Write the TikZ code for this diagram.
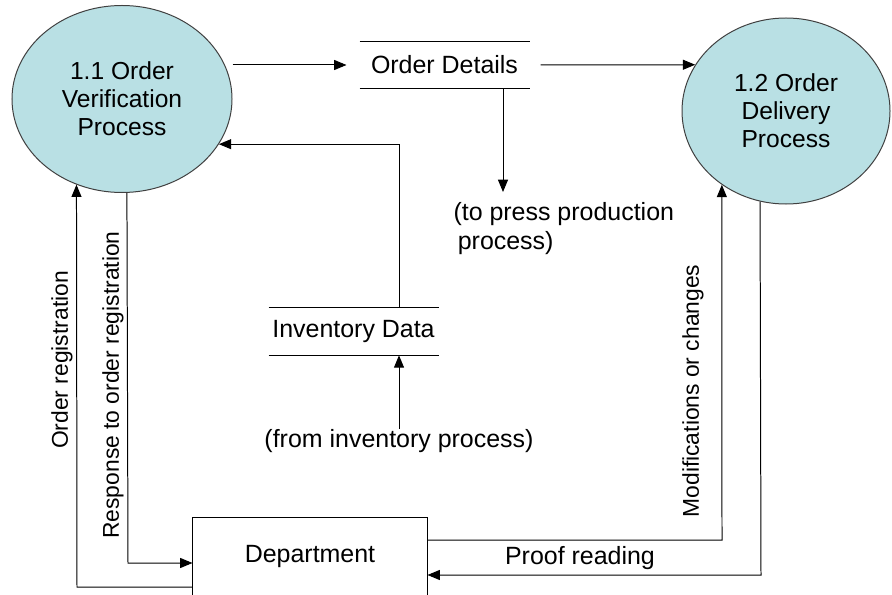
\documentclass[tikz,border=0pt]{standalone}
\usepackage{fontspec}
\setmainfont{Liberation Sans}
\usepackage{tikz}
\usetikzlibrary{arrows.meta}
\usetikzlibrary{shapes.geometric}
\usetikzlibrary{positioning}
\usetikzlibrary{calc}

\definecolor{procfill}{RGB}{185,224,228}
\definecolor{procline}{RGB}{64,64,64}

\tikzset{
  process/.style={ellipse, draw=procline, fill=procfill, inner sep=0pt, align=center,
    font=\fontsize{21}{23.9}\selectfont},
  store/.style={minimum width=5.07cm, minimum height=1.4cm, inner sep=0pt,
    font=\fontsize{21.3}{24}\selectfont},
  entity/.style={draw, minimum width=7.02cm, minimum height=2.4cm, inner sep=0pt,
    font=\fontsize{21.3}{24}\selectfont},
  note/.style={inner sep=0pt, font=\fontsize{21.3}{24.7}\selectfont},
  flowlabel/.style={rotate=90, inner sep=0pt, font=\fontsize{19.5}{22}\selectfont},
  flow/.style={-{Triangle[length=0.37cm, width=0.3cm]}},
}

\begin{document}
\begin{tikzpicture}[x=0.03cm, y=-0.03cm, line width=0.85pt]
            \clip (0,0) rectangle (892,595);

            % processes
            \node[process, minimum width=6.6cm, minimum height=5.61cm] (ver) at (122,99) {1.1 Order\\Verification\\Process};
            \node[process, minimum width=6.24cm, minimum height=5.58cm] (del) at (786,111) {1.2 Order\\Delivery\\Process};

            % data stores
            \node[store] (od) at (444.5,65) {Order Details};
            \node[store] (inv) at (353.5,331.5) {Inventory Data};
            \draw (od.north west) -- (od.north east) (od.south west) -- (od.south east);
            \draw (inv.north west) -- (inv.north east) (inv.south west) -- (inv.south east);

            % external entity
            \node[entity] (dept) at (310,557) {Department};

            % other texts
            \node[note, anchor=north west, align=left] (press) at (453,202) {(to press production\\\hspace*{0.13cm}process)};
            \node[note] (frominv) at (399,441) {(from inventory process)};
            \node[note] (prooflabel) at (580,558) {Proof reading};
            \node[flowlabel] (reglabel) at (62,360) {Order registration};
            \node[flowlabel] (resplabel) at (113,385) {Response to order registration};
            \node[flowlabel] (modlabel) at (693,391) {Modifications or changes};

            % bends
            \coordinate (presstap) at (503,192);
            \coordinate (reg) at (77,587);
            \coordinate (resp) at (128,563);
            \coordinate (mod) at (722,540);
            \coordinate (proof) at (761,575);

            % flows
            \draw[flow] (ver.east |- od) -- ($(od.west)+(-13,0)$);
            \draw[flow] ($(od.east)+(11,0)$) -- (del.153);
            \draw[flow] (od.south -| presstap) -- (presstap);
            \draw[flow] (frominv.north) -- (frominv.north |- inv.south);
            \draw[flow] (frominv.north |- inv.north) |- (ver.-25.6);
            \draw[flow] (reg -| dept.west) -- (reg) -- (ver.242);
            \draw[flow] (ver.273.7) -- (resp) -- (resp -| dept.west);
            \draw[flow] (mod -| dept.east) -- (mod) -- (del.229);
            \draw[flow] (del.254.5) -- (proof) -- (proof -| dept.east);
        \end{tikzpicture}
\end{document}
